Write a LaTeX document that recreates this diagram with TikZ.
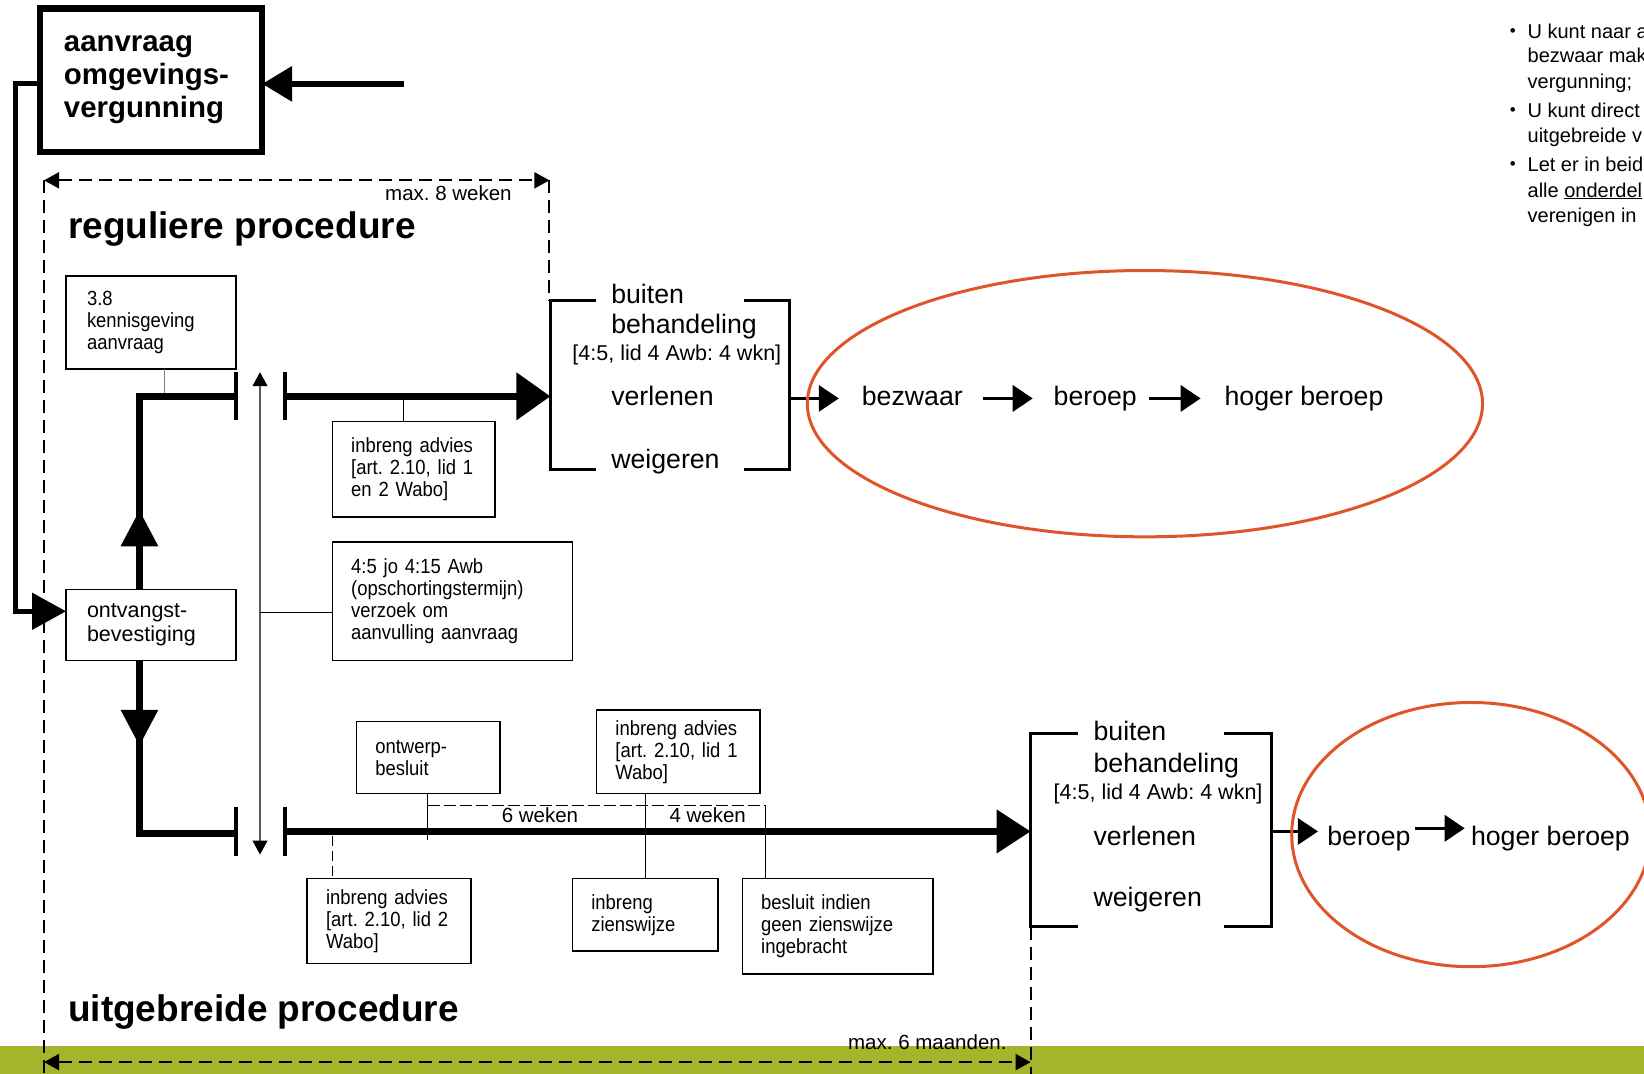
\documentclass[tikz,border=0pt]{standalone}
\usepackage{fontspec}
\setmainfont{Liberation Sans}
\newfontfamily\narrowsans[FakeStretch=0.9]{Liberation Sans}
\usetikzlibrary{arrows.meta}
\definecolor{limegreen}{HTML}{A5B52B}
\definecolor{markred}{HTML}{E0542A}
\frenchspacing
\begin{document}
\begin{tikzpicture}[x=1.0485pt,y=-1.0485pt,
  every node/.style={inner sep=0pt,outer sep=0pt},
  smallbox/.style={draw,line width=1.5pt,anchor=north west,align=left,
     font=\narrowsans\fontsize{20.5}{22}\selectfont\frenchspacing},
  lbl/.style={anchor=west,font=\fontsize{26.7}{30}\selectfont,text height=19pt,text depth=5.3pt},
  awb/.style={anchor=west,font=\fontsize{21.5}{24}\selectfont,text height=15pt,text depth=4.3pt},
  midlbl/.style={font=\fontsize{20.5}{22}\selectfont\frenchspacing,text height=14.6pt,text depth=4pt},
  toptxt/.style={anchor=west,font=\fontsize{20}{24}\selectfont,text height=14.4pt,text depth=4pt},
  bul/.style={font=\fontsize{17}{18}\selectfont},
  proctitle/.style={anchor=west,font=\bfseries\fontsize{37}{40}\selectfont,text height=27pt,text depth=7.5pt},
  heavy/.style={line width=7.3pt},
  tickbar/.style={line width=4pt},
  brk/.style={line width=3pt},
  thinln/.style={line width=1.2pt},
  dashln/.style={line width=2pt,dash pattern=on 13pt off 7pt},
  bighead/.style={-{Triangle[length=34pt,width=46pt]}},
  medhead/.style={-{Triangle[length=20pt,width=26pt]}},
  smallhead/.style={{Triangle[length=15pt,width=16pt]}-{Triangle[length=15pt,width=16pt]}}
]
\useasboundingbox (0,0) rectangle (1568,1024);
\clip (0,0) rectangle (1568,1024);
\fill[limegreen] (0,998) rectangle (1568,1024);

% ---------- boxes ----------
\node[draw,line width=6.5pt,anchor=north west,minimum width=222.3pt,minimum height=143.6pt,
      text width=174.1pt,align=left,font=\bfseries\fontsize{29.4}{33}\selectfont]
      (aan) at (38,8) {aanvraag\\omgevings-\\vergunning};
\node[smallbox,minimum width=169.9pt,minimum height=93.3pt,text width=128pt] (ken) at (63,263) {3.8\\kennisgeving\\aanvraag};
\node[smallbox,minimum width=162.5pt,minimum height=95.4pt,text width=124.8pt] (inb1) at (317,402) {inbreng advies\\\mbox{[art. 2.10, lid 1}\\en 2 Wabo]};
\node[smallbox,minimum width=240.1pt,minimum height=118.5pt,text width=202.4pt] (ops) at (317,517) {4:5 jo 4:15 Awb\\(opschortingstermijn)\\verzoek om\\aanvulling aanvraag};
\node[draw,line width=1.5pt,anchor=north west,align=left,minimum width=169.9pt,minimum height=71.3pt,
      text width=128pt,font=\fontsize{21.5}{24}\selectfont] (ont) at (63,562) {ontvangst-\\bevestiging};
\node[smallbox,minimum width=143.6pt,minimum height=72.3pt,text width=105.9pt] (ontw) at (340,688) {ontwerp-\\besluit};
\node[smallbox,minimum width=163.6pt,minimum height=83.9pt,text width=125.8pt] (inb2) at (569,677) {inbreng advies\\\mbox{[art. 2.10, lid 1}\\Wabo]};
\node[smallbox,minimum width=163.6pt,minimum height=84.9pt,text width=125.8pt] (inb3) at (293,838) {inbreng advies\\\mbox{[art. 2.10, lid 2}\\Wabo]};
\node[smallbox,minimum width=145.7pt,minimum height=72.3pt,text width=108pt] (zie) at (546,838) {inbreng\\zienswijze};
\node[smallbox,minimum width=190.8pt,minimum height=95.4pt,text width=153.1pt] (bes) at (708,838) {besluit indien\\geen zienswijze\\ingebracht};

% ---------- titles and labels ----------
\node[proctitle] (reg) at (65,218) {reguliere procedure};
\node[proctitle] (uit) at (65,965) {uitgebreide procedure};
\node[midlbl,anchor=east] (m8) at (488,186) {max. 8 weken};
\node[midlbl,anchor=east] (m6) at (960,996) {max. 6 maanden.};

% ---------- incoming arrow and feed ----------
\coordinate (ain) at (385,80);
\draw[line width=6.5pt,-{Triangle[length=30pt,width=34pt]}] (ain) -- (aan.east |- ain);
\coordinate (fa) at (15,80);
\coordinate (fb) at (15,583);
\draw[line width=5pt,-{Triangle[length=34pt,width=36pt]}] (aan.west |- fa) -- (fa) -- (fb) -- (ont.west |- fb);

% ---------- dashed frames ----------
\coordinate (rgL) at (42,172);
\coordinate (rgR) at (524,172);
\coordinate (rgB) at (524,287);
\coordinate (lfB) at (42,1024);
\draw[dashln,smallhead] (rgL) -- (rgR);
\draw[dashln] (rgR) -- (rgB);
\draw[dashln] (rgL) -- (lfB);
\coordinate (ubL) at (42,1013);
\coordinate (ubR) at (983,1013);
\coordinate (ubT) at (983,884);
\coordinate (ubB) at (983,1024);
\draw[dashln] (ubT) -- (ubB);
\draw[dashln,smallhead] (ubL) -- (ubR);

% ---------- thick structure from ontvangst ----------
\coordinate (upC) at (133,378);
\coordinate (upT) at (225,378);
\draw[heavy] (ont.north -| upC) -- (upC) -- (upT);
\draw[tickbar] (225,355) -- (225,401);
\fill (115,521) -- (151,521) -- (133,487) -- cycle;
\coordinate (dnC) at (133,795);
\coordinate (dnT) at (225,795);
\draw[heavy] (ont.south -| dnC) -- (dnC) -- (dnT);
\draw[tickbar] (225,770) -- (225,816);
\fill (115,677) -- (151,677) -- (133,711) -- cycle;

\coordinate (kc) at (157,375);
\draw[line width=1.3pt,gray] (ken.south -| kc) -- (kc);

\coordinate (vt) at (248,355);
\coordinate (vb) at (248,815);
\draw[line width=1.1pt,gray!70!black,{Triangle[length=14pt,width=15pt,color=black]}-{Triangle[length=14pt,width=15pt,color=black]}] (vt) -- (vb);
\coordinate (oc1) at (248,584);
\draw[thinln] (oc1) -- (ops.west |- oc1);

% ---------- upper timeline ----------
\draw[tickbar] (272,355) -- (272,401);
\coordinate (ut0) at (272,378);
\coordinate (ut1) at (525,378);
\draw[heavy,bighead] (ut0) -- (ut1);
\coordinate (i1c) at (385,378);
\draw[thinln] (i1c) -- (inb1.north -| i1c);

\draw[brk] (568,287) -- (525,287) -- (525,448) -- (568,448);
\draw[brk] (710,287) -- (753,287) -- (753,448) -- (710,448);
\node[lbl] (bu1a) at (583,283) {buiten};
\node[lbl] (bu1b) at (583,312) {behandeling};
\node[awb] (awb1) at (546,339) {[4:5, lid 4 Awb: 4 wkn]};
\node[lbl] (ver1) at (583,380) {verlenen};
\node[lbl] (wei1) at (583,440) {weigeren};

\node[lbl] (bez) at (822,380) {bezwaar};
\node[lbl] (ber1) at (1005,380) {beroep};
\node[lbl] (hb1) at (1168,380) {hoger beroep};
\coordinate (o1) at (753,380);
\draw[brk,medhead,shorten >=23pt] (o1) -- (bez.west |- o1);
\draw[line width=3.5pt,medhead,shorten <=20pt,shorten >=21pt] (bez.east) -- (ber1.west |- bez.east);
\draw[line width=3.5pt,medhead,shorten <=12.6pt,shorten >=24pt] (ber1.east) -- (hb1.west |- ber1.east);

% ---------- lower timeline ----------
\draw[tickbar] (272,770) -- (272,816);
\coordinate (lt0) at (272,793);
\coordinate (lt1) at (983,793);
\draw[heavy,-{Triangle[length=34pt,width=42pt]}] (lt0) -- (lt1);
\coordinate (owc) at (408,801);
\draw[thinln] (ontw.south -| owc) -- (owc);
\coordinate (w6a) at (408,768);
\coordinate (w6b) at (730,768);
\draw[thinln,dash pattern=on 12pt off 4pt] (w6a) -- (w6b);
\draw[thinln] (w6b) -- (bes.north -| w6b);
\node[midlbl] (w6) at (515,779) {6 weken};
\node[midlbl] (w4) at (675,779) {4 weken};
\coordinate (i2c) at (616,760);
\draw[thinln] (inb2.south -| i2c) -- (zie.north -| i2c);
\coordinate (i3c) at (317,797);
\draw[thinln,dash pattern=on 10pt off 5pt] (i3c) -- (inb3.north -| i3c);

\draw[brk] (1028,700) -- (983,700) -- (983,884) -- (1028,884);
\draw[brk] (1167,700) -- (1213,700) -- (1213,884) -- (1167,884);
\node[lbl] (bu2a) at (1043,700) {buiten};
\node[lbl] (bu2b) at (1043,730) {behandeling};
\node[awb] (awb2) at (1005,757) {[4:5, lid 4 Awb: 4 wkn]};
\node[lbl] (ver2) at (1043,800) {verlenen};
\node[lbl] (wei2) at (1043,858) {weigeren};

\node[lbl] (ber2) at (1266,800) {beroep};
\node[lbl] (hb2) at (1403,800) {hoger beroep};
\coordinate (o2) at (1213,793);
\draw[brk,medhead,shorten >=9.4pt] (o2) -- (ber2.west |- o2);
\coordinate (m2) at (1350,790);
\draw[line width=3.5pt,medhead,shorten >=6.3pt] (m2) -- (hb2.west |- m2);

% ---------- red marks ----------
\draw[markred,line width=3pt] (1092,385) ellipse [x radius=322,y radius=127];
\draw[markred,line width=3pt] (1403,796) ellipse [x radius=171,y radius=126];

% ---------- top right notes ----------
\node[bul] (bl1) at (1443,31) {•};
\node[bul] (bl2) at (1443,106) {•};
\node[bul] (bl3) at (1443,158) {•};
\node[toptxt] (t1) at (1457,32) {U kunt naar a};
\node[toptxt] (t2) at (1457,55) {bezwaar mak};
\node[toptxt] (t3) at (1457,79) {vergunning;};
\node[toptxt] (t4) at (1457,107) {U kunt direct};
\node[toptxt] (t5) at (1457,131) {uitgebreide v};
\node[toptxt] (t6) at (1457,159) {Let er in beid};
\node[toptxt] (t7) at (1457,183) {alle \underline{onderdel}};
\node[toptxt] (t8) at (1457,207) {verenigen in};
\end{tikzpicture}
\end{document}
